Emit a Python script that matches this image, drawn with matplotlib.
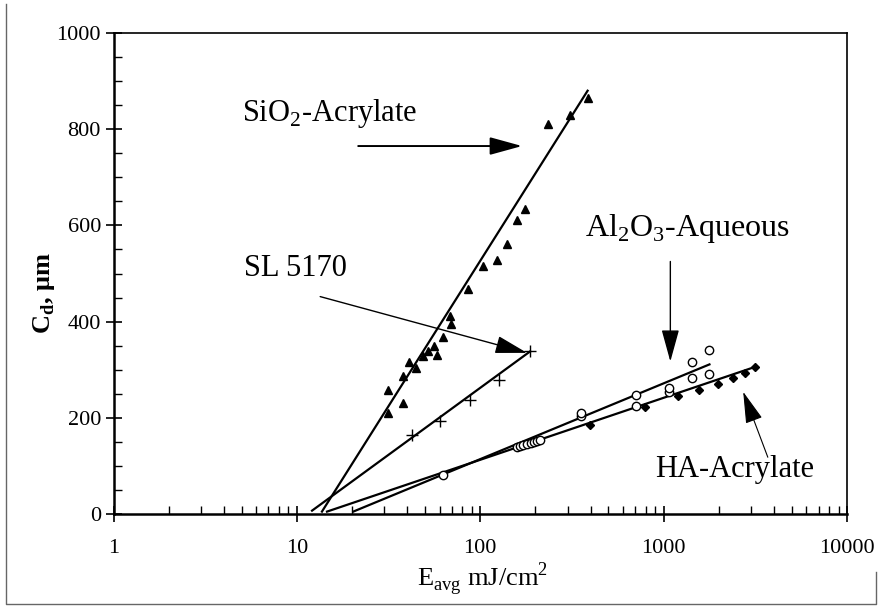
import matplotlib
matplotlib.use("Agg")
import matplotlib.pyplot as plt
from matplotlib.ticker import FixedLocator, NullFormatter, MultipleLocator
from matplotlib.lines import Line2D

# ---- data ----
sio2_x = [31.3, 31.3, 37.8, 37.8, 41.1, 44.7, 48.6, 52.2, 58, 55.6, 62.5, 68.9, 68.5,
          86, 104, 123, 139.6, 158.5, 176, 235, 310, 385]
sio2_y = [210, 258, 231, 286, 317, 303, 329, 338, 331, 350, 368, 394, 411,
          467, 515, 528, 562, 611, 635, 810, 830, 865]
sio2_fit_x = [13.7, 385]
sio2_fit_y = [5, 880]

sl_x = [42.4, 60.4, 88, 126, 187]
sl_y = [165, 194, 237, 279, 338]
sl_fit_x = [12.1, 187]
sl_fit_y = [7, 338]

al_x = [63, 158, 165, 172, 180, 188, 196, 204, 212, 355, 355, 709, 709,
        1064, 1064, 1426, 1426, 1778, 1778]
al_y = [81, 140, 142, 144, 146, 148, 150, 152, 154, 203, 210, 224, 248,
        253, 262, 283, 317, 292, 340]
al_fit_x = [20.3, 1778]
al_fit_y = [5, 311]

ha_x = [398, 794, 1191, 1551, 1968, 2388, 2786, 3162]
ha_y = [185, 222, 246, 258, 271, 283, 294, 306]
ha_fit_x = [14.6, 3162]
ha_fit_y = [5, 306]

x_ticks = [1, 10, 100, 1000, 10000]
x_tick_labels = ["1", "10", "100", "1000", "10000"]
y_ticks = [0, 200, 400, 600, 800, 1000]
y_tick_labels = ["0", "200", "400", "600", "800", "1000"]

serif = ["Liberation Serif", "DejaVu Serif"]

fig = plt.figure(figsize=(8.8, 6.08), dpi=100)
ax = fig.add_axes([113.5/880, 1-514/608, (847-113.5)/880, (514-33)/608])

ax.set_xscale("log")
ax.set_xlim(1, 10000)
ax.set_ylim(0, 1000)

# fit lines
for fx, fy in [(sio2_fit_x, sio2_fit_y), (sl_fit_x, sl_fit_y),
               (al_fit_x, al_fit_y), (ha_fit_x, ha_fit_y)]:
    ax.plot(fx, fy, color="black", lw=1.6, zorder=3)

ax.plot(sio2_x, sio2_y, linestyle="none", marker="^", ms=6, color="black", zorder=4)
ax.plot(sl_x, sl_y, linestyle="none", marker="+", ms=8, mew=1.0, color="black", zorder=4)
ax.plot(al_x, al_y, linestyle="none", marker="o", ms=6, mfc="white", mec="black", mew=1.0, zorder=4)
ax.plot(ha_x, ha_y, linestyle="none", marker="D", ms=4.5, color="black", zorder=4)

# ticks
ax.xaxis.set_major_locator(FixedLocator(x_ticks))
ax.set_xticklabels(x_tick_labels)
minors = [m * d for d in [1, 10, 100, 1000] for m in range(2, 10)]
ax.xaxis.set_minor_locator(FixedLocator(minors))
ax.xaxis.set_minor_formatter(NullFormatter())
ax.yaxis.set_major_locator(FixedLocator(y_ticks))
ax.set_yticklabels(y_tick_labels)
ax.yaxis.set_minor_locator(MultipleLocator(50))

ax.tick_params(axis="both", which="major", direction="inout", length=12, width=1.2,
               labelsize=16, pad=3)
ax.tick_params(axis="x", which="major", pad=12)
ax.tick_params(axis="both", which="minor", direction="in", length=6, width=1.0)
for lab in ax.get_xticklabels() + ax.get_yticklabels():
    lab.set_fontfamily(serif)

for s in ["left", "bottom"]:
    ax.spines[s].set_linewidth(1.8)
for s in ["top", "right"]:
    ax.spines[s].set_linewidth(1.2)

fig.text(483/880, 1-579/608, r"E$_{\mathregular{avg}}$ mJ/cm$^{\mathregular{2}}$",
         fontsize=19, family=serif, ha="center", va="center")
fig.text(44/880, 1-293/608, r"C$_{\mathregular{d}}$, μm", fontsize=19, family=serif,
         fontweight="bold", rotation=90, ha="center", va="center")

# annotations
def arrow(lw):
    return dict(arrowstyle="-|>,head_length=2.0,head_width=0.55", color="black",
                lw=lw, shrinkA=0, shrinkB=0)

ax.text(45.3, 817, r"SiO$_{\mathregular{2}}$-Acrylate", fontsize=22, family=serif, ha="right")
ax.annotate("", xy=(169, 765), xytext=(21.6, 765), arrowprops=arrow(1.4))

ax.text(18.8, 494, "SL 5170", fontsize=22, family=serif, ha="right")
ax.annotate("", xy=(180, 335), xytext=(13.4, 452), arrowprops=arrow(1.0))

ax.text(373, 577, r"Al$_{\mathregular{2}}$O$_{\mathregular{3}}$-Aqueous", fontsize=23, family=serif)
ax.annotate("", xy=(1088, 317), xytext=(1088, 525), arrowprops=arrow(1.0))

ax.text(900, 77, "HA-Acrylate", fontsize=22, family=serif)
ax.annotate("", xy=(2716, 254), xytext=(3700, 118), arrowprops=arrow(0.8))

# scanned outer frame (left, bottom and lower right edges)
fx = [l / 880 for l in (6, 6, 876, 876)]
fy = [1 - v / 608 for v in (4, 604, 604, 572)]
fig.lines.append(Line2D(fx, fy, transform=fig.transFigure, color="#666666", lw=1.0))

fig.savefig("out.png", dpi=100)
